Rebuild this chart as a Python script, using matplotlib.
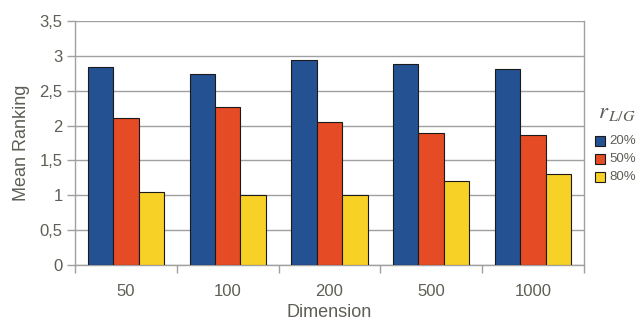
import matplotlib.pyplot as plt
import numpy as np
from matplotlib.ticker import FuncFormatter, FixedLocator
from matplotlib.patches import Rectangle

plt.rcParams['font.family'] = ['Liberation Sans', 'DejaVu Sans']
plt.rcParams['mathtext.fontset'] = 'stix'

dims = ['50', '100', '200', '500', '1000']
r20 = [2.84, 2.74, 2.94, 2.89, 2.81]
r50 = [2.11, 2.27, 2.05, 1.90, 1.87]
r80 = [1.05, 1.00, 1.00, 1.21, 1.31]
labels = ['20%', '50%', '80%']
colors = ['#245192', '#e54b24', '#f8d126']

txt = '#5c5f55'
grid = '#a0a0a0'

fig = plt.figure(figsize=(6.36, 3.2), dpi=100)
ax = fig.add_axes([0.118, 0.172, 0.800, 0.762])

x = np.arange(len(dims))
w = 0.25
for i, (vals, lab, c) in enumerate(zip([r20, r50, r80], labels, colors)):
    ax.bar(x + (i - 1) * w, vals, w, color=c, edgecolor='#1a1a1a',
           linewidth=0.8, label=lab, zorder=3)

ax.set_xlim(-0.5, len(dims) - 0.5)
ax.set_ylim(0, 3.5)
ax.set_yticks(np.arange(0, 3.51, 0.5))
ax.yaxis.set_major_formatter(FuncFormatter(lambda v, p: ('%g' % v).replace('.', ',')))
ax.yaxis.grid(True, color=grid, linewidth=1.0, zorder=0)

ax.set_xticks(x)
ax.set_xticklabels(dims)
ax.tick_params(axis='x', which='major', length=0, pad=14, labelsize=12, labelcolor=txt)
ax.xaxis.set_minor_locator(FixedLocator(np.arange(-0.5, len(dims), 1.0)))
ax.tick_params(axis='x', which='minor', length=6, color=grid, width=1)
ax.tick_params(axis='y', length=6, color=grid, width=1, labelsize=12, labelcolor=txt, pad=3)

for s in ax.spines.values():
    s.set_color(grid)
    s.set_linewidth(1.0)
ax.spines['top'].set_visible(False)

ax.set_xlabel('Dimension', fontsize=13, color=txt, labelpad=3)
ax.set_ylabel('Mean Ranking', fontsize=13, color=txt, labelpad=7)

# legend
fig.text(598 / 636, 1 - 118 / 320, r'$r_{\,L/G}$', fontsize=16.5, color=txt,
         ha='left', va='baseline')
for i, (lab, c) in enumerate(zip(labels, colors)):
    yc = 141 + 18 * i
    fig.patches.append(Rectangle((595 / 636, 1 - (yc + 5) / 320), 10 / 636, 10 / 320,
                                 transform=fig.transFigure, facecolor=c,
                                 edgecolor='#1a1a1a', linewidth=0.8))
    fig.text(609 / 636, 1 - yc / 320, lab, fontsize=9.5, color=txt,
             ha='left', va='center')

fig.savefig('out.png', dpi=100)
